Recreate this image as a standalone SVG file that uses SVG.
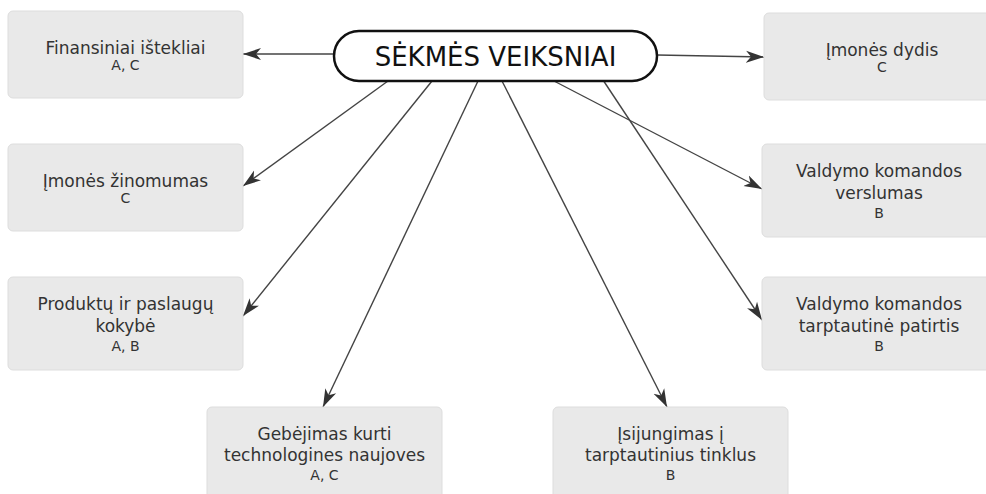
<svg xmlns="http://www.w3.org/2000/svg" width="986" height="494" viewBox="0 0 986 494">
<defs>
<style>
.box{fill:#e9e9e9;stroke:#dddddd;stroke-width:1}
.t{font-family:"DejaVu Sans",sans-serif;font-size:17px;fill:#333;text-anchor:middle}
.s{font-family:"DejaVu Sans",sans-serif;font-size:14px;fill:#333;text-anchor:middle}
.c{stroke:#444;stroke-width:1.4;fill:none;marker-end:url(#arr)}
</style>
<marker id="arr" markerUnits="userSpaceOnUse" markerWidth="20" markerHeight="14" viewBox="0 -7 20 14" refX="18" refY="0" orient="auto">
<path d="M0,-6 L18,0 L0,6 L5,0 Z" fill="#333"/>
</marker>
</defs>
<rect width="986" height="494" fill="#fff"/>
<g id="connectors">
<line class="c" x1="334" y1="54" x2="243" y2="54"/>
<line class="c" x1="657" y1="55" x2="764" y2="57"/>
<line class="c" x1="388" y1="81" x2="243" y2="186"/>
<line class="c" x1="432" y1="81" x2="243" y2="316"/>
<line class="c" x1="478" y1="81" x2="323" y2="407"/>
<line class="c" x1="502" y1="81" x2="667" y2="407"/>
<line class="c" x1="554" y1="81" x2="762" y2="189"/>
<line class="c" x1="603" y1="80" x2="762" y2="320"/>
</g>
<g id="center">
<rect x="334" y="31" width="323" height="50" rx="25" fill="#fff" stroke="#111" stroke-width="2.5"/>
<text x="495.5" y="66" font-family="DejaVu Sans, sans-serif" font-size="26" fill="#111" text-anchor="middle">SĖKMĖS VEIKSNIAI</text>
</g>
<g id="finansiniai">
<rect class="box" x="8" y="11" width="235" height="87" rx="5"/>
<text class="t" x="125.5" y="54">Finansiniai ištekliai</text>
<text class="s" x="125.5" y="70">A, C</text>
</g>
<g id="zinomumas">
<rect class="box" x="8" y="144" width="235" height="87" rx="5"/>
<text class="t" x="125.5" y="187">Įmonės žinomumas</text>
<text class="s" x="125.5" y="203">C</text>
</g>
<g id="produktu">
<rect class="box" x="8" y="277" width="235" height="93" rx="5"/>
<text class="t" x="125.5" y="310">Produktų ir paslaugų</text>
<text class="t" x="125.5" y="332">kokybė</text>
<text class="s" x="125.5" y="351">A, B</text>
</g>
<g id="gebejimas">
<rect class="box" x="207" y="407" width="235" height="93" rx="5"/>
<text class="t" x="324.5" y="440">Gebėjimas kurti</text>
<text class="t" x="324.5" y="461">technologines naujoves</text>
<text class="s" x="324.5" y="480">A, C</text>
</g>
<g id="isijungimas">
<rect class="box" x="553" y="407" width="235" height="93" rx="5"/>
<text class="t" x="670.5" y="440">Įsijungimas į</text>
<text class="t" x="670.5" y="461">tarptautinius tinklus</text>
<text class="s" x="670.5" y="480">B</text>
</g>
<g id="dydis">
<rect class="box" x="764" y="13" width="236" height="87" rx="5"/>
<text class="t" x="882" y="56">Įmonės dydis</text>
<text class="s" x="882" y="72">C</text>
</g>
<g id="verslumas">
<rect class="box" x="762" y="144" width="236" height="93" rx="5"/>
<text class="t" x="879" y="177">Valdymo komandos</text>
<text class="t" x="879" y="199">verslumas</text>
<text class="s" x="879" y="218">B</text>
</g>
<g id="patirtis">
<rect class="box" x="762" y="277" width="236" height="93" rx="5"/>
<text class="t" x="879" y="310">Valdymo komandos</text>
<text class="t" x="879" y="332">tarptautinė patirtis</text>
<text class="s" x="879" y="351">B</text>
</g>
</svg>
